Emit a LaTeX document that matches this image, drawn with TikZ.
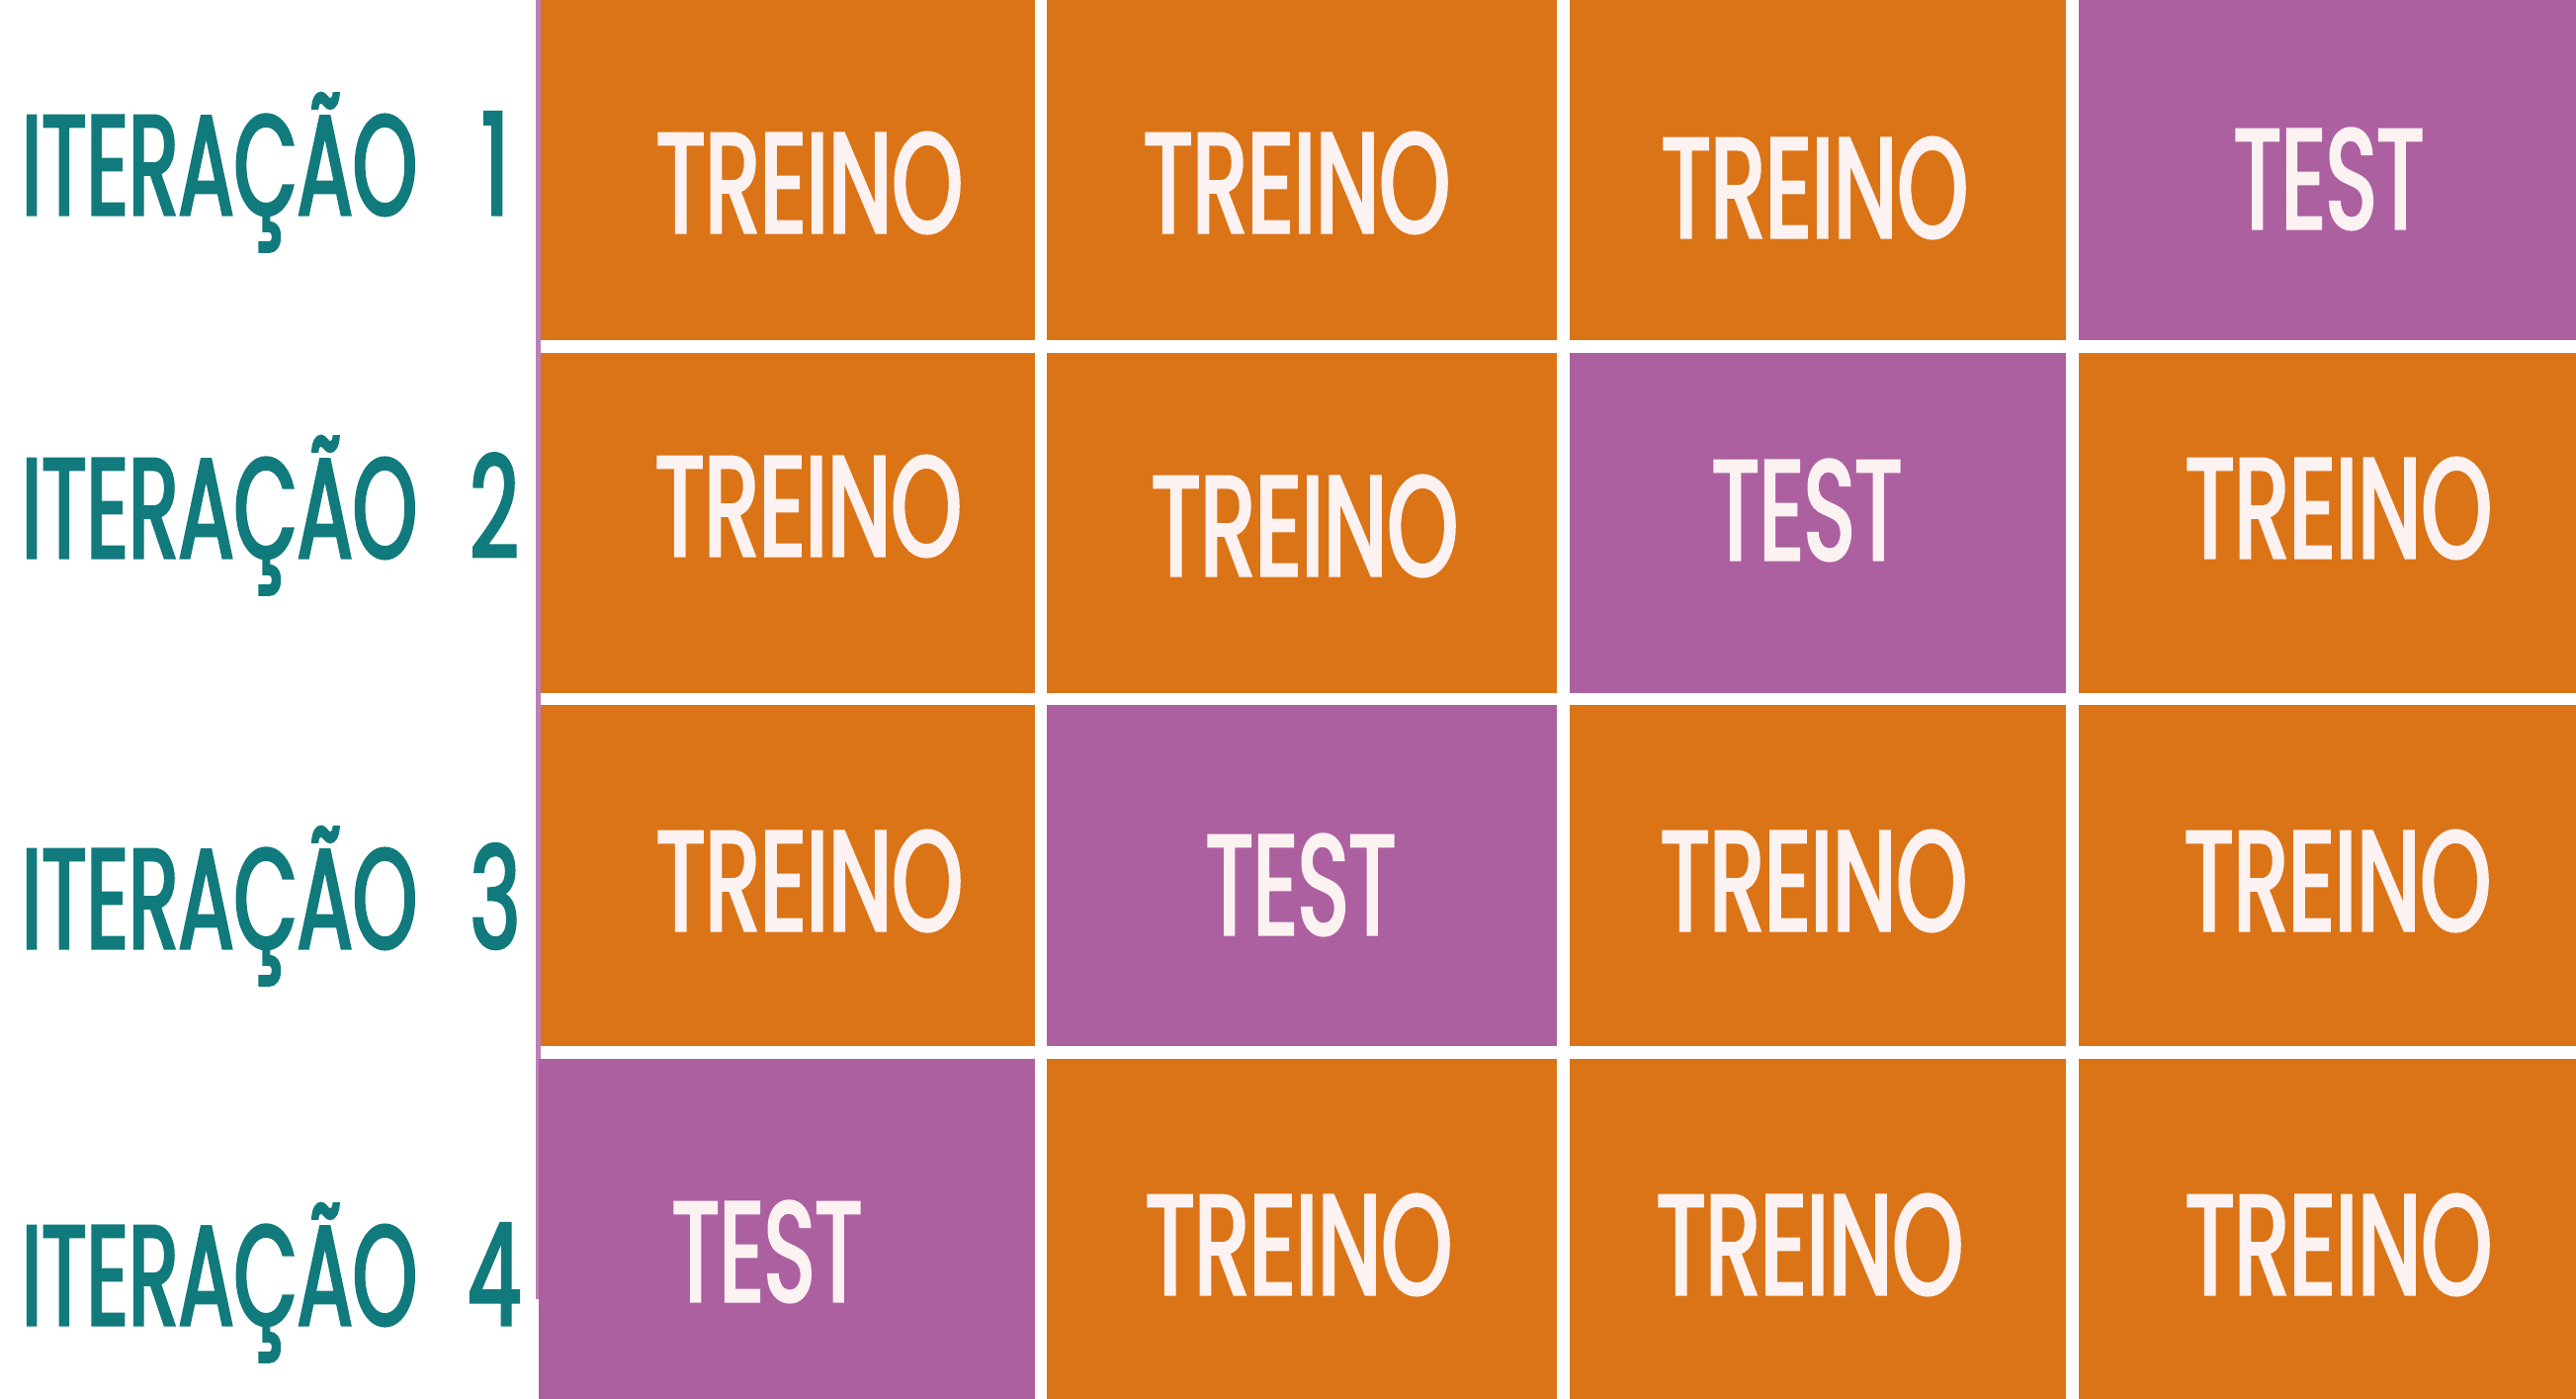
\documentclass[tikz,border=0pt]{standalone}
\usepackage{fontspec}
\usepackage{graphicx}
\newfontfamily\gridfont[FakeStretch=0.6,FakeBold=2.2]{Poppins}
\definecolor{cvorange}{HTML}{DB7417}
\definecolor{cvpurple}{HTML}{AC60A0}
\definecolor{cvteal}{HTML}{117A7C}
\definecolor{cvtext}{HTML}{FBF2F1}
\definecolor{cvline}{HTML}{BB80B5}
\newcommand\capbox[1]{\raisebox{0pt}[\fontcharht\font`T][0pt]{#1}}
\newcommand\fitword[2]{\resizebox{#1}{100pt}{\capbox{#2}}}
\newcommand\fitdigit[1]{\resizebox{!}{100pt}{\capbox{#1}}}
\tikzset{
  cellbox/.style={draw=none,inner sep=0pt,outer sep=0pt,rectangle},
  trainc/.style={cellbox,fill=cvorange},
  testc/.style={cellbox,fill=cvpurple},
  celltext/.style={inner sep=0pt,outer sep=0pt,anchor=base,text=cvtext,font=\gridfont\fontsize{100}{100}\selectfont},
  itlabel/.style={inner sep=0pt,outer sep=0pt,anchor=base west,text=cvteal,font=\gridfont\fontsize{100}{100}\selectfont},
  itdigit/.style={inner sep=0pt,outer sep=0pt,anchor=base,text=cvteal,font=\gridfont\fontsize{100}{100}\selectfont}
}
\newcommand\treino{\fitword{310pt}{TREINO}}
\newcommand\test{\fitword{192pt}{TEST}}
\begin{document}
\begin{tikzpicture}[x=1pt,y=-1pt]
\useasboundingbox[fill=white] (0,0) rectangle (2606,1415);
% left thin line
\fill[cvline] (542,0) rectangle (546.5,1314);
% cells: columns [547,1047] [1059,1575] [1588,2090] [2103,2606]
%        rows    [0,344] [357,701] [713,1058] [1071,1415]
% row 1
\node[trainc,minimum width=500pt,minimum height=344pt] (r1c1) at (797,172) {};
\node[trainc,minimum width=516pt,minimum height=344pt] (r1c2) at (1317,172) {};
\node[trainc,minimum width=502pt,minimum height=344pt] (r1c3) at (1839,172) {};
\node[testc,minimum width=503pt,minimum height=344pt] (r1c4) at (2354.5,172) {};
% row 2
\node[trainc,minimum width=500pt,minimum height=344pt] (r2c1) at (797,529) {};
\node[trainc,minimum width=516pt,minimum height=344pt] (r2c2) at (1317,529) {};
\node[testc,minimum width=502pt,minimum height=344pt] (r2c3) at (1839,529) {};
\node[trainc,minimum width=503pt,minimum height=344pt] (r2c4) at (2354.5,529) {};
% row 3
\node[trainc,minimum width=500pt,minimum height=345pt] (r3c1) at (797,885.5) {};
\node[testc,minimum width=516pt,minimum height=345pt] (r3c2) at (1317,885.5) {};
\node[trainc,minimum width=502pt,minimum height=345pt] (r3c3) at (1839,885.5) {};
\node[trainc,minimum width=503pt,minimum height=345pt] (r3c4) at (2354.5,885.5) {};
% row 4
\node[testc,minimum width=502pt,minimum height=344pt] (r4c1) at (796,1243) {};
\node[trainc,minimum width=516pt,minimum height=344pt] (r4c2) at (1317,1243) {};
\node[trainc,minimum width=502pt,minimum height=344pt] (r4c3) at (1839,1243) {};
\node[trainc,minimum width=503pt,minimum height=344pt] (r4c4) at (2354.5,1243) {};
% cell texts
\node[celltext] (t11) at (819,235) {\treino};
\node[celltext] (t12) at (1312,235) {\treino};
\node[celltext] (t13) at (1836,240) {\treino};
\node[celltext] (t14) at (2356,231) {\test};
\node[celltext] (t21) at (818,562) {\treino};
\node[celltext] (t22) at (1320,582) {\treino};
\node[celltext] (t23) at (1828,566) {\test};
\node[celltext] (t24) at (2366,564) {\treino};
\node[celltext] (t31) at (819,941) {\treino};
\node[celltext] (t32) at (1316,945) {\test};
\node[celltext] (t33) at (1835,941) {\treino};
\node[celltext] (t34) at (2365,941) {\treino};
\node[celltext] (t41) at (776,1316) {\test};
\node[celltext] (t42) at (1314,1309) {\treino};
\node[celltext] (t43) at (1831,1309) {\treino};
\node[celltext] (t44) at (2366,1309) {\treino};
% iteration labels
\node[itlabel] (l1) at (22,217) {\fitword{400pt}{ITERAÇÃO}};
\node[itlabel] (l2) at (22,564) {\fitword{400pt}{ITERAÇÃO}};
\node[itlabel] (l3) at (22,959) {\fitword{400pt}{ITERAÇÃO}};
\node[itlabel] (l4) at (22,1340) {\fitword{400pt}{ITERAÇÃO}};
\node[itdigit] (d1) at (501,217) {\fitdigit{1}};
\node[itdigit] (d2) at (500,564) {\fitdigit{2}};
\node[itdigit] (d3) at (501,959) {\fitdigit{3}};
\node[itdigit] (d4) at (500,1340) {\fitdigit{4}};
\end{tikzpicture}
\end{document}
